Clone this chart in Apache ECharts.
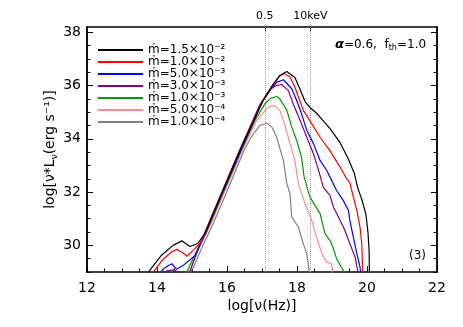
<!DOCTYPE html>
<html>
<head>
<meta charset="utf-8">
<script src="https://cdn.jsdelivr.net/npm/echarts@6/dist/echarts.min.js"></script>
<style>
  html, body { margin: 0; padding: 0; background: #fff; }
  #chart { width: 463px; height: 327px; }
</style>
</head>
<body>
<div id="chart"></div>
<script>
// log(nu) , log(nu L_nu), one list per accretion rate
const mdot15e3 = [[13.66, 28.84], [14.13, 29.63], [14.46, 30.0], [14.71, 30.17], [14.94, 29.96], [15.17, 30.08], [15.37, 30.45], [15.8, 31.8], [16.37, 33.57], [17.03, 35.44], [17.29, 36.0], [17.51, 36.38], [17.71, 36.53], [17.94, 36.3], [18.09, 35.85], [18.23, 35.4], [18.37, 35.18], [18.57, 34.95], [18.94, 34.39], [19.23, 33.86], [19.46, 33.26], [19.63, 32.74], [19.74, 32.14], [19.86, 31.69], [19.97, 31.16], [20.03, 30.45], [20.06, 29.81], [20.07, 28.87]];
const mdot10e3 = [[13.8, 28.84], [14.17, 29.47], [14.43, 29.77], [14.57, 29.85], [14.71, 29.74], [14.86, 29.59], [15.03, 29.81], [15.23, 30.08], [15.37, 30.45], [15.8, 31.8], [16.37, 33.57], [17.03, 35.44], [17.29, 35.97], [17.49, 36.34], [17.63, 36.45], [17.8, 36.32], [17.94, 35.94], [18.18, 35.07], [18.42, 34.57], [18.66, 34.06], [18.94, 33.56], [19.23, 32.94], [19.42, 32.5], [19.51, 32.36], [19.61, 31.81], [19.71, 31.31], [19.8, 30.69], [19.85, 30.06], [19.88, 28.87]];
const mdot50e4 = [[14.03, 28.84], [14.2, 29.14], [14.42, 29.31], [14.56, 29.1], [14.75, 29.25], [15.09, 29.62], [15.4, 30.49], [15.83, 31.84], [16.4, 33.57], [17.0, 35.37], [17.29, 35.93], [17.43, 36.13], [17.61, 36.22], [17.85, 35.88], [17.99, 35.44], [18.13, 34.94], [18.28, 34.32], [18.47, 33.82], [18.66, 33.19], [18.85, 32.81], [18.99, 32.44], [19.13, 32.06], [19.32, 31.69], [19.47, 31.31], [19.51, 30.94], [19.61, 30.31], [19.71, 29.69], [19.8, 29.19], [19.83, 28.84]];
const mdot30e4 = [[14.17, 28.84], [14.28, 29.04], [14.47, 29.08], [14.61, 28.99], [14.77, 28.93], [14.94, 29.02], [15.14, 29.74], [15.37, 30.49], [15.8, 31.84], [16.37, 33.6], [16.94, 35.29], [17.23, 35.85], [17.4, 36.0], [17.56, 36.04], [17.75, 35.82], [17.89, 35.32], [18.09, 34.69], [18.28, 34.06], [18.47, 33.44], [18.6, 32.89], [18.75, 32.19], [18.94, 31.88], [19.04, 31.44], [19.23, 30.94], [19.37, 30.56], [19.51, 30.06], [19.66, 29.56], [19.76, 28.87]];
const mdot10e4 = [[14.66, 28.84], [14.86, 29.02], [15.17, 29.89], [15.43, 30.56], [15.86, 31.88], [16.43, 33.64], [16.8, 34.69], [17.09, 35.33], [17.26, 35.53], [17.42, 35.59], [17.51, 35.5], [17.71, 35.07], [17.85, 34.44], [17.99, 33.94], [18.13, 33.31], [18.2, 32.59], [18.37, 31.81], [18.66, 31.19], [18.8, 30.44], [18.94, 30.19], [19.04, 29.88], [19.13, 29.5], [19.32, 29.06], [19.4, 28.87]];
const mdot50e5 = [[14.74, 28.84], [14.94, 29.06], [15.23, 30.0], [15.49, 30.64], [15.91, 31.95], [16.49, 33.71], [16.83, 34.65], [17.09, 35.07], [17.23, 35.22], [17.37, 35.25], [17.51, 35.07], [17.66, 34.5], [17.8, 33.82], [17.94, 33.19], [18.04, 32.32], [18.23, 31.56], [18.42, 30.94], [18.56, 30.31], [18.71, 29.69], [18.85, 29.37], [18.99, 29.31], [19.02, 28.84]];
const mdot10e5 = [[14.83, 28.84], [15.03, 29.14], [15.31, 30.0], [15.57, 30.71], [16.0, 32.03], [16.51, 33.64], [16.75, 34.19], [16.94, 34.5], [17.14, 34.59], [17.29, 34.43], [17.42, 34.06], [17.61, 33.19], [17.71, 32.32], [17.8, 31.94], [17.85, 31.06], [18.04, 30.69], [18.18, 30.06], [18.28, 29.69], [18.37, 28.84]];

const seriesNames = ['ṁ=1.5×10⁻²', 'ṁ=1.0×10⁻²', 'ṁ=5.0×10⁻³', 'ṁ=3.0×10⁻³', 'ṁ=1.0×10⁻³', 'ṁ=5.0×10⁻⁴', 'ṁ=1.0×10⁻⁴'];
const seriesData = [mdot15e3, mdot10e3, mdot50e4, mdot30e4, mdot10e4, mdot50e5, mdot10e5];
const seriesColors = ['#000000', '#ff0000', '#0000ff', '#800080', '#009900', '#ff8c8c', '#808080'];

const yMajorTicks = [30, 32, 34, 36, 38];
const keVPos = [17.08, 18.38];
const keVLabels = ['0.5', '10keV'];

const font = 'DejaVu Sans';
const yMinorTicks = [];
for (let v = 29; v <= 38; v += 0.5) {
  if (yMajorTicks.indexOf(v) < 0) yMinorTicks.push(v);
}

const chart = echarts.init(document.getElementById('chart'));

const yBase = {
  type: 'value',
  min: 29,
  max: 38.2,
  splitLine: { show: false },
  axisLine: { show: true, lineStyle: { color: '#000', width: 1.5 } }
};

const option = {
  animation: false,
  backgroundColor: '#fff',
  grid: { left: 87, right: 26, top: 27, bottom: 55 },
  legend: {
    orient: 'vertical',
    left: 93,
    top: 39,
    icon: 'rect',
    itemWidth: 45,
    itemHeight: 2,
    itemGap: 0,
    selectedMode: false,
    textStyle: { fontFamily: font, fontSize: 12, lineHeight: 11.7, color: '#000' },
    data: seriesNames
  },
  xAxis: [
    {
      type: 'value',
      min: 12,
      max: 22,
      interval: 2,
      name: 'log[ν(Hz)]',
      nameLocation: 'middle',
      nameGap: 27,
      nameMoveOverlap: false,
      nameTextStyle: { fontFamily: font, fontSize: 14, color: '#000' },
      splitLine: { show: false },
      axisLine: { lineStyle: { color: '#000', width: 1.5 } },
      axisTick: { inside: true, length: 6, lineStyle: { color: '#000' } },
      minorTick: { show: true, splitNumber: 4, length: 3.5, lineStyle: { color: '#000' } },
      axisLabel: { fontFamily: font, fontSize: 14, color: '#000', margin: 9 }
    },
    {
      type: 'value',
      position: 'top',
      min: 12,
      max: 22,
      splitLine: { show: false },
      axisLine: { lineStyle: { color: '#000', width: 1.5 } },
      axisTick: { inside: true, length: 5, customValues: keVPos, lineStyle: { color: '#000' } },
      axisLabel: {
        customValues: keVPos,
        fontFamily: font,
        fontSize: 11,
        color: '#000',
        margin: 5,
        formatter: function (v) {
          return Math.abs(v - keVPos[0]) < Math.abs(v - keVPos[1]) ? keVLabels[0] : keVLabels[1];
        }
      }
    }
  ],
  yAxis: [
    Object.assign({}, yBase, {
      position: 'left',
      name: 'log[ν*L{s|ν}(erg s⁻¹)]',
      nameLocation: 'middle',
      nameGap: 28,
      nameMoveOverlap: false,
      nameTextStyle: {
        fontFamily: font, fontSize: 14, color: '#000', lineHeight: 18,
        rich: { s: { fontFamily: font, fontSize: 9, verticalAlign: 'bottom', lineHeight: 18 } }
      },
      axisTick: { inside: true, length: 6, customValues: yMajorTicks, lineStyle: { color: '#000' } },
      axisLabel: { customValues: yMajorTicks, fontFamily: font, fontSize: 14, color: '#000', margin: 6 }
    }),
    Object.assign({}, yBase, {
      position: 'left',
      axisTick: { inside: true, length: 3.5, customValues: yMinorTicks, lineStyle: { color: '#000' } },
      axisLabel: { show: false }
    }),
    Object.assign({}, yBase, {
      position: 'right',
      axisTick: { inside: true, length: 6, customValues: yMajorTicks, lineStyle: { color: '#000' } },
      axisLabel: { show: false }
    }),
    Object.assign({}, yBase, {
      position: 'right',
      axisTick: { inside: true, length: 3.5, customValues: yMinorTicks, lineStyle: { color: '#000' } },
      axisLabel: { show: false }
    })
  ],
  graphic: [
    {
      type: 'text',
      left: 335,
      top: 37,
      style: {
        text: '{a|α}=0.6,  f{s|th}=1.0',
        fontFamily: font,
        fontSize: 12,
        lineHeight: 15,
        fill: '#000',
        rich: {
          a: { fontFamily: font, fontSize: 13, fontStyle: 'italic', fontWeight: 'bold', lineHeight: 15 },
          s: { fontFamily: font, fontSize: 8, verticalAlign: 'bottom', lineHeight: 15 }
        }
      }
    },
    {
      type: 'text',
      left: 409,
      top: 250,
      style: { text: '(3)', fontFamily: font, fontSize: 12, fill: '#000' }
    }
  ],
  series: seriesData.map(function (d, i) {
    const s = {
      name: seriesNames[i],
      type: 'line',
      data: d,
      showSymbol: false,
      symbol: 'none',
      color: seriesColors[i],
      lineStyle: { width: 1.2, color: seriesColors[i] },
      z: 10 - i
    };
    if (i === 0) {
      s.markLine = {
        silent: true,
        symbol: 'none',
        label: { show: false },
        lineStyle: { color: '#999', type: 'dotted', width: 1 },
        data: keVPos.map(function (v) { return { xAxis: v }; })
      };
    }
    return s;
  })
};

chart.setOption(option);
</script>
</body>
</html>
